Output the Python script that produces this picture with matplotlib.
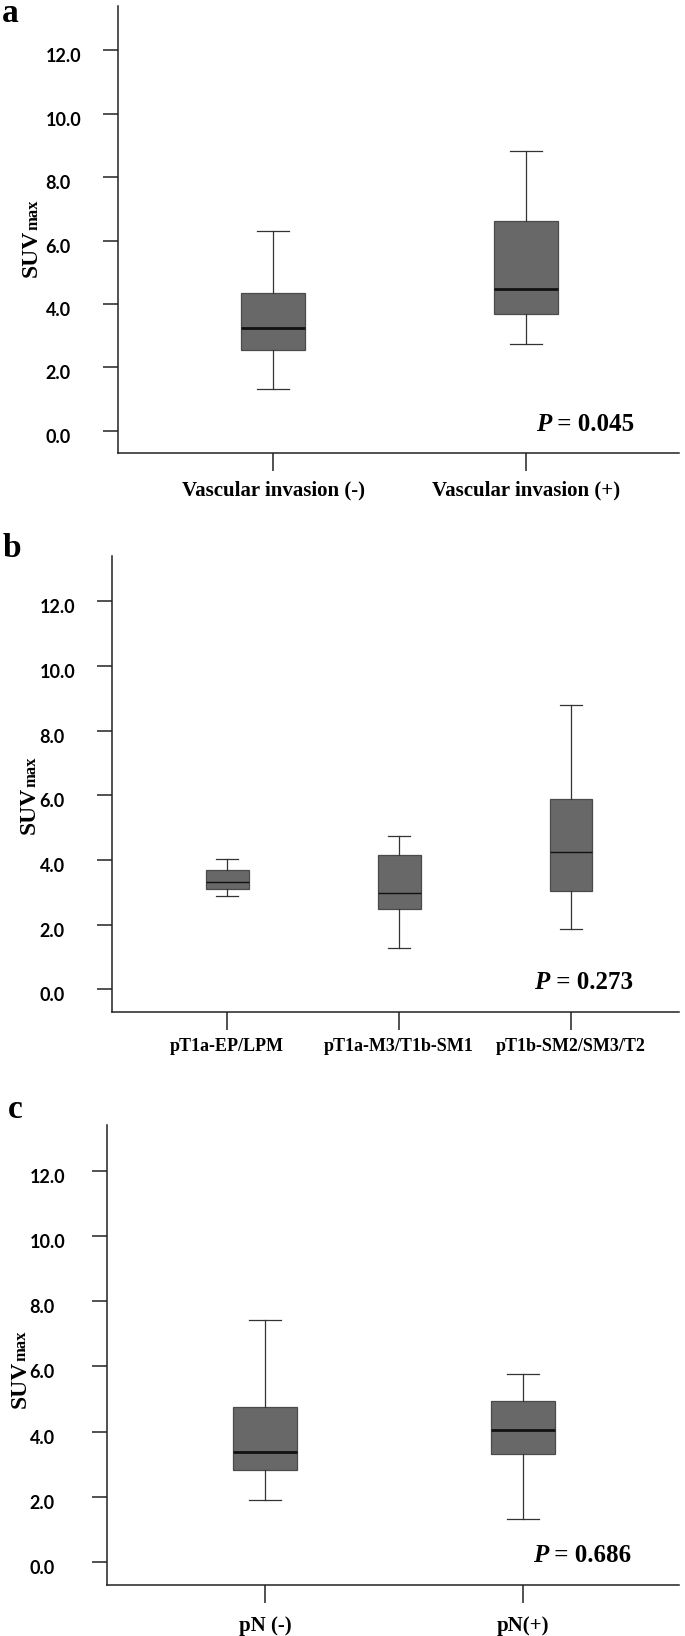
import matplotlib
matplotlib.use("Agg")
import matplotlib.pyplot as plt
from matplotlib.transforms import ScaledTranslation, blended_transform_factory

# ---------------- data ----------------
a_categories = ["Vascular invasion (-)", "Vascular invasion (+)"]
a_whislo = [1.31, 2.73]
a_q1 = [2.54, 3.70]
a_med = [3.25, 4.48]
a_q3 = [4.36, 6.61]
a_whishi = [6.30, 8.83]
a_pvalue = "0.045"

b_categories = ["pT1a-EP/LPM", "pT1a-M3/T1b-SM1", "pT1b-SM2/SM3/T2"]
b_whislo = [2.90, 1.27, 1.88]
b_q1 = [3.10, 2.49, 3.04]
b_med = [3.32, 2.99, 4.26]
b_q3 = [3.68, 4.15, 5.90]
b_whishi = [4.02, 4.73, 8.78]
b_pvalue = "0.273"

c_categories = ["pN (-)", "pN(+)"]
c_whislo = [1.91, 1.31]
c_q1 = [2.82, 3.33]
c_med = [3.37, 4.05]
c_q3 = [4.77, 4.95]
c_whishi = [7.41, 5.77]
c_pvalue = "0.686"

ytick_values = [0, 2, 4, 6, 8, 10, 12]
ytick_labels = ["0.0", "2.0", "4.0", "6.0", "8.0", "10.0", "12.0"]
panel_letters = ["a", "b", "c"]

# ---------------- layout ----------------
W, H, DPI = 685, 1636, 100
fig = plt.figure(figsize=(W / DPI, H / DPI), dpi=DPI)

SERIF = ["Liberation Serif", "DejaVu Serif"]
SANS = ["Lato", "DejaVu Sans"]

panels = [
    dict(data=(a_categories, a_whislo, a_q1, a_med, a_q3, a_whishi, a_pvalue),
         box=(118, 679, 6, 453), xlim=(0.387, 2.605), cat_size=15, med_lw=2.0,
         ypad_px=57, letter=(2, 22), ylab=(37, 277), xpad=7),
    dict(data=(b_categories, b_whislo, b_q1, b_med, b_q3, b_whishi, b_pvalue),
         box=(112, 679, 556, 1012), xlim=(0.331, 3.628), cat_size=13, med_lw=1.0,
         ypad_px=57, letter=(3, 557), ylab=(35, 834), xpad=6),
    dict(data=(c_categories, c_whislo, c_q1, c_med, c_q3, c_whishi, c_pvalue),
         box=(107, 679, 1125, 1585), xlim=(0.388, 2.605), cat_size=15, med_lw=2.0,
         ypad_px=62, letter=(8, 1118), ylab=(26, 1408), xpad=9),
]

fig.canvas.draw()
renderer = fig.canvas.get_renderer()

for letter, p in zip(panel_letters, panels):
    cats, wlo, q1, med, q3, whi, pval = p["data"]
    l, r, t, b = p["box"]
    ax = fig.add_axes([l / W, 1 - b / H, (r - l) / W, (b - t) / H])

    stats = [dict(label=c, whislo=wl, q1=a1, med=m, q3=a3, whishi=wh, fliers=[])
             for c, wl, a1, m, a3, wh in zip(cats, wlo, q1, med, q3, whi)]
    positions = list(range(1, len(cats) + 1))
    ax.bxp(stats, positions=positions, widths=0.25, patch_artist=True,
           showfliers=False,
           boxprops=dict(facecolor="#686868", edgecolor="#4a4a4a", linewidth=0.9),
           medianprops=dict(color="#111111", linewidth=p["med_lw"]),
           whiskerprops=dict(color="#333333", linewidth=0.9),
           capprops=dict(color="#333333", linewidth=0.9))

    ax.set_xlim(*p["xlim"])
    ax.set_ylim(-0.7, 13.4)
    for s in ["top", "right"]:
        ax.spines[s].set_visible(False)
    for s in ["left", "bottom"]:
        ax.spines[s].set_linewidth(1.1)
        ax.spines[s].set_color("#222222")

    ax.set_xticks(positions)
    ax.set_xticklabels(cats, fontfamily=SERIF, fontweight="bold", fontsize=p["cat_size"])
    ax.tick_params(axis="x", direction="out", length=13, width=1.1, color="#222222",
                   pad=p["xpad"])

    ax.set_yticks(ytick_values)
    ax.set_yticklabels(ytick_labels, fontfamily=SANS, fontweight="bold", fontsize=13)
    ax.tick_params(axis="y", direction="out", length=11, width=1.1, color="#222222",
                   pad=p["ypad_px"] * 0.72)
    off = ScaledTranslation(0, -5 / DPI, fig.dpi_scale_trans)
    for lab in ax.get_yticklabels():
        lab.set_horizontalalignment("left")
        lab.set_transform(lab.get_transform() + off)

    # P value: italic "P" followed by " = value"
    tr = blended_transform_factory(ax.transAxes, ax.transData)
    tp = ax.text(0.745, 0.2, "P", transform=tr, ha="left", va="center",
                 fontfamily=SERIF, fontweight="bold", fontstyle="italic", fontsize=18)
    ax.annotate(" = " + pval, xy=(1, 0), xycoords=tp, ha="left", va="bottom",
                fontfamily=SERIF, fontweight="bold", fontsize=18)

    # panel letter
    lx, ly = p["letter"]
    fig.text(lx / W, 1 - ly / H, letter, ha="left", va="baseline",
             fontfamily=SERIF, fontweight="bold", fontsize=24)

    # y label: "SUV" + smaller "max"
    bx, by = p["ylab"]
    t1 = fig.text(bx / W, 1 - by / H, "SUV", rotation=90, rotation_mode="anchor",
                  ha="left", va="baseline", fontfamily=SERIF, fontweight="bold",
                  fontsize=17)
    ext = t1.get_window_extent(renderer)
    fig.text(bx / W, 1 - by / H + ext.height / H, "max", rotation=90,
             rotation_mode="anchor", ha="left", va="baseline", fontfamily=SERIF,
             fontweight="bold", fontsize=12)

fig.savefig("out.png", dpi=DPI, facecolor="white")
